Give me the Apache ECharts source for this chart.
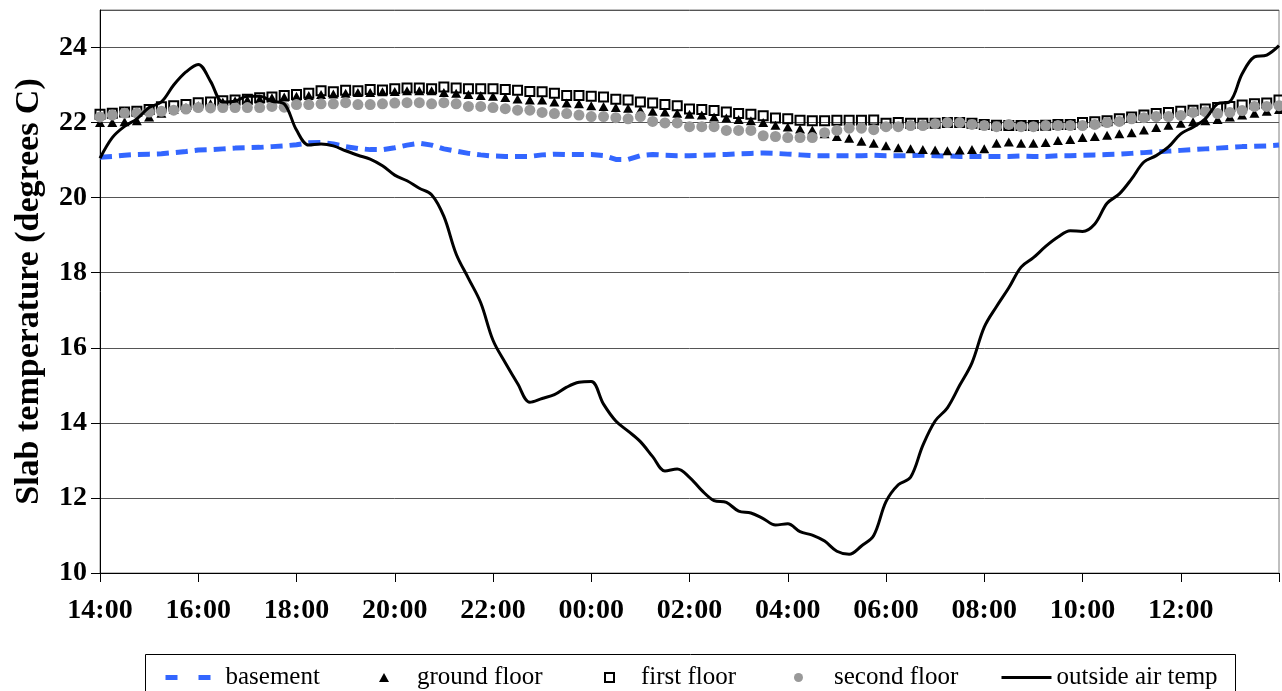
<!DOCTYPE html>
<html>
<head>
<meta charset="utf-8">
<script src="https://cdn.jsdelivr.net/npm/echarts@6/dist/echarts.min.js"></script>
<style>
  html, body { margin: 0; padding: 0; background: #fff; }
  #chart { width: 1282px; height: 691px; }
</style>
</head>
<body>
<div id="chart"></div>
<script>
// Readings every 15 minutes, 14:00 to 14:00 the next day (97 samples)
const startHour = 14;
const stepsPerHour = 4;
const sampleCount = 97;
const times = [];
for (let i = 0; i < sampleCount; i++) {
  const h = (startHour + Math.floor(i / stepsPerHour)) % 24;
  const m = (i % stepsPerHour) * 15;
  times.push(String(h).padStart(2, '0') + ':' + String(m).padStart(2, '0'));
}

const yTicks = { min: 10, max: 25, interval: 2 };

const basement = [
  21.08, 21.10, 21.13, 21.15, 21.16, 21.17, 21.20, 21.23, 21.27, 21.28,
  21.30, 21.32, 21.33, 21.34, 21.36, 21.38, 21.41, 21.46, 21.47, 21.43,
  21.36, 21.31, 21.28, 21.28, 21.33, 21.40, 21.45, 21.40, 21.30, 21.24,
  21.18, 21.14, 21.11, 21.10, 21.10, 21.10, 21.14, 21.16, 21.15, 21.15,
  21.15, 21.12, 21.02, 21.02, 21.12, 21.15, 21.13, 21.12, 21.12, 21.13,
  21.14, 21.15, 21.17, 21.18, 21.19, 21.18, 21.16, 21.14, 21.12, 21.12,
  21.12, 21.12, 21.12, 21.13, 21.12, 21.12, 21.12, 21.13, 21.12, 21.11,
  21.10, 21.10, 21.10, 21.10, 21.10, 21.11, 21.10, 21.10, 21.12, 21.12,
  21.13, 21.14, 21.15, 21.16, 21.18, 21.20, 21.22, 21.24, 21.26, 21.28,
  21.30, 21.32, 21.34, 21.36, 21.37, 21.38, 21.40
];

const groundFloor = [
  22.00, 22.00, 22.02, 22.05, 22.15, 22.25, 22.35, 22.40, 22.45, 22.50,
  22.55, 22.58, 22.60, 22.63, 22.66, 22.68, 22.70, 22.72, 22.75, 22.76,
  22.78, 22.80, 22.80, 22.82, 22.83, 22.85, 22.85, 22.85, 22.80, 22.78,
  22.75, 22.72, 22.70, 22.67, 22.63, 22.60, 22.60, 22.55, 22.52, 22.50,
  22.45, 22.43, 22.40, 22.38, 22.33, 22.30, 22.28, 22.25, 22.22, 22.20,
  22.15, 22.12, 22.08, 22.05, 22.00, 21.93, 21.88, 21.83, 21.80, 21.70,
  21.63, 21.58, 21.50, 21.45, 21.38, 21.33, 21.30, 21.28, 21.27, 21.25,
  21.27, 21.28, 21.30, 21.45, 21.48, 21.45, 21.45, 21.47, 21.52, 21.55,
  21.60, 21.63, 21.66, 21.70, 21.73, 21.80, 21.87, 21.93, 21.98, 22.02,
  22.05, 22.08, 22.15, 22.20, 22.25, 22.30, 22.35
];

const firstFloor = [
  22.22, 22.25, 22.28, 22.30, 22.35, 22.42, 22.45, 22.48, 22.53, 22.55,
  22.58, 22.60, 22.62, 22.66, 22.68, 22.72, 22.75, 22.78, 22.85, 22.82,
  22.86, 22.85, 22.88, 22.87, 22.90, 22.92, 22.92, 22.90, 22.95, 22.92,
  22.90, 22.90, 22.90, 22.88, 22.86, 22.83, 22.82, 22.78, 22.72, 22.72,
  22.70, 22.68, 22.62, 22.60, 22.55, 22.52, 22.48, 22.45, 22.36, 22.35,
  22.32, 22.28, 22.24, 22.22, 22.18, 22.12, 22.10, 22.06, 22.05, 22.05,
  22.06, 22.06, 22.06, 22.07, 21.98, 22.00, 21.98, 21.98, 21.98, 22.00,
  22.00, 21.98, 21.95, 21.93, 21.92, 21.92, 21.92, 21.93, 21.95, 21.95,
  22.00, 22.02, 22.05, 22.10, 22.15, 22.20, 22.24, 22.27, 22.30, 22.33,
  22.36, 22.40, 22.43, 22.47, 22.50, 22.52, 22.60
];

const secondFloor = [
  22.15, 22.20, 22.25, 22.25, 22.28, 22.30, 22.33, 22.36, 22.40, 22.39,
  22.40, 22.40, 22.40, 22.40, 22.43, 22.41, 22.48, 22.48, 22.50, 22.50,
  22.53, 22.48, 22.48, 22.50, 22.52, 22.53, 22.53, 22.50, 22.53, 22.50,
  22.43, 22.43, 22.40, 22.37, 22.33, 22.33, 22.27, 22.24, 22.24, 22.20,
  22.16, 22.16, 22.13, 22.10, 22.16, 22.03, 21.99, 21.99, 21.89, 21.89,
  21.89, 21.79, 21.79, 21.79, 21.65, 21.63, 21.60, 21.60, 21.60, 21.73,
  21.79, 21.85, 21.85, 21.81, 21.89, 21.89, 21.92, 21.92, 21.97, 22.00,
  22.00, 21.95, 21.92, 21.89, 21.95, 21.89, 21.89, 21.92, 21.92, 21.92,
  21.92, 21.95, 22.00, 22.03, 22.10, 22.13, 22.16, 22.16, 22.19, 22.27,
  22.29, 22.24, 22.27, 22.32, 22.43, 22.43, 22.45
];

const outsideAir = [
  21.05, 21.60, 21.90, 22.10, 22.40, 22.55, 23.00, 23.35, 23.55, 23.10,
  22.55, 22.57, 22.70, 22.70, 22.57, 22.50, 21.80, 21.40, 21.43, 21.38,
  21.25, 21.13, 21.03, 20.85, 20.60, 20.45, 20.25, 20.08, 19.50, 18.50,
  17.85, 17.20, 16.20, 15.60, 15.05, 14.55, 14.65, 14.75, 14.95, 15.08,
  15.10, 14.50, 14.05, 13.78, 13.50, 13.10, 12.72, 12.77, 12.55, 12.20,
  11.93, 11.88, 11.65, 11.60, 11.45, 11.28, 11.31, 11.10, 11.01, 10.85,
  10.58, 10.50, 10.72, 11.00, 11.90, 12.35, 12.55, 13.40, 14.05, 14.40,
  15.00, 15.60, 16.55, 17.10, 17.60, 18.15, 18.40, 18.70, 18.95, 19.12,
  19.10, 19.30, 19.85, 20.10, 20.50, 20.95, 21.12, 21.35, 21.70, 21.88,
  22.10, 22.50, 22.56, 23.30, 23.75, 23.80, 24.05
];

const serif = '"Liberation Serif", "Times New Roman", serif';
const blue = '#3366ff';
const grey = '#999999';

const chart = echarts.init(document.getElementById('chart'), null, { renderer: 'canvas' });

// One legend per entry so each sits where it belongs inside the shared box
function legendAt(item, left, w, h, textGap) {
  return {
    data: [item],
    left: left,
    top: 665,
    orient: 'horizontal',
    itemWidth: w,
    itemHeight: h,
    padding: 0,
    selectedMode: false,
    textStyle: {
      fontFamily: serif, fontSize: 25, color: '#000',
      padding: [0, 0, 0, textGap || 0]
    }
  };
}

chart.setOption({
  animation: false,
  backgroundColor: '#fff',
  grid: {
    left: 100, right: 3, top: 10, bottom: 118,
    outerBoundsMode: 'none',
    show: true, borderColor: '#808080', borderWidth: 1, backgroundColor: 'transparent'
  },
  xAxis: {
    type: 'category',
    data: times,
    boundaryGap: false,
    axisLine: { lineStyle: { color: '#000', width: 1 } },
    axisTick: {
      show: true, length: 9, inside: false,
      interval: function (i) { return i % 8 === 0; },
      lineStyle: { color: '#000' }
    },
    axisLabel: {
      interval: function (i) { return i % 8 === 0 && i < times.length - 1; },
      margin: 24,
      fontFamily: serif, fontWeight: 'bold', fontSize: 28, color: '#000'
    },
    splitLine: { show: false }
  },
  yAxis: {
    type: 'value',
    min: yTicks.min, max: yTicks.max, interval: yTicks.interval,
    name: 'Slab temperature (degrees C)',
    nameLocation: 'middle',
    nameRotate: 90,
    nameGap: 54,
    nameTextStyle: { fontFamily: serif, fontWeight: 'bold', fontSize: 34, color: '#000' },
    axisLine: { show: true, lineStyle: { color: '#000', width: 1 } },
    axisTick: { show: true, length: 9, lineStyle: { color: '#000' } },
    axisLabel: {
      showMaxLabel: false,
      margin: 13,
      fontFamily: serif, fontWeight: 'bold', fontSize: 28, color: '#000'
    },
    splitLine: { show: true, lineStyle: { color: '#555', width: 1 } }
  },
  legend: [
    legendAt({ name: 'basement', itemStyle: { opacity: 0 },
               lineStyle: { type: [12, 21], width: 5, color: blue } }, 163, 55, 10, 0),
    legendAt({ name: 'ground floor', icon: 'triangle' }, 379, 10, 9, 23),
    legendAt({ name: 'first floor', icon: 'rect' }, 604, 9, 9, 22),
    legendAt({ name: 'second floor', icon: 'circle' }, 794, 9, 9, 26),
    legendAt({ name: 'outside air temp', itemStyle: { opacity: 0 },
               lineStyle: { width: 3, color: '#000' } }, 1000, 50, 10, 0)
  ],
  graphic: [{
    type: 'rect',
    shape: { x: 145.5, y: 654.5, width: 1090, height: 60 },
    style: { fill: 'none', stroke: '#000', lineWidth: 1 },
    z: 0
  }],
  series: [
    {
      name: 'basement',
      type: 'line',
      data: basement,
      showSymbol: false,
      symbol: 'none',
      lineStyle: { color: blue, width: 5, type: [12, 7] },
      itemStyle: { color: blue },
      z: 2
    },
    {
      name: 'ground floor',
      type: 'scatter',
      data: groundFloor,
      symbol: 'triangle',
      symbolSize: [10, 9],
      itemStyle: { color: '#000', opacity: 1 },
      z: 3
    },
    {
      name: 'first floor',
      type: 'scatter',
      data: firstFloor,
      symbol: 'rect',
      symbolSize: 9,
      itemStyle: { color: 'rgba(255,255,255,0)', borderColor: '#000', borderWidth: 2, opacity: 1 },
      z: 4
    },
    {
      name: 'second floor',
      type: 'scatter',
      data: secondFloor,
      symbol: 'circle',
      symbolSize: 11,
      itemStyle: { color: grey, opacity: 1 },
      z: 5
    },
    {
      name: 'outside air temp',
      type: 'line',
      data: outsideAir,
      smooth: 0.35,
      showSymbol: false,
      symbol: 'none',
      lineStyle: { color: '#000', width: 3 },
      itemStyle: { color: '#000' },
      z: 6
    }
  ]
});
</script>
</body>
</html>
